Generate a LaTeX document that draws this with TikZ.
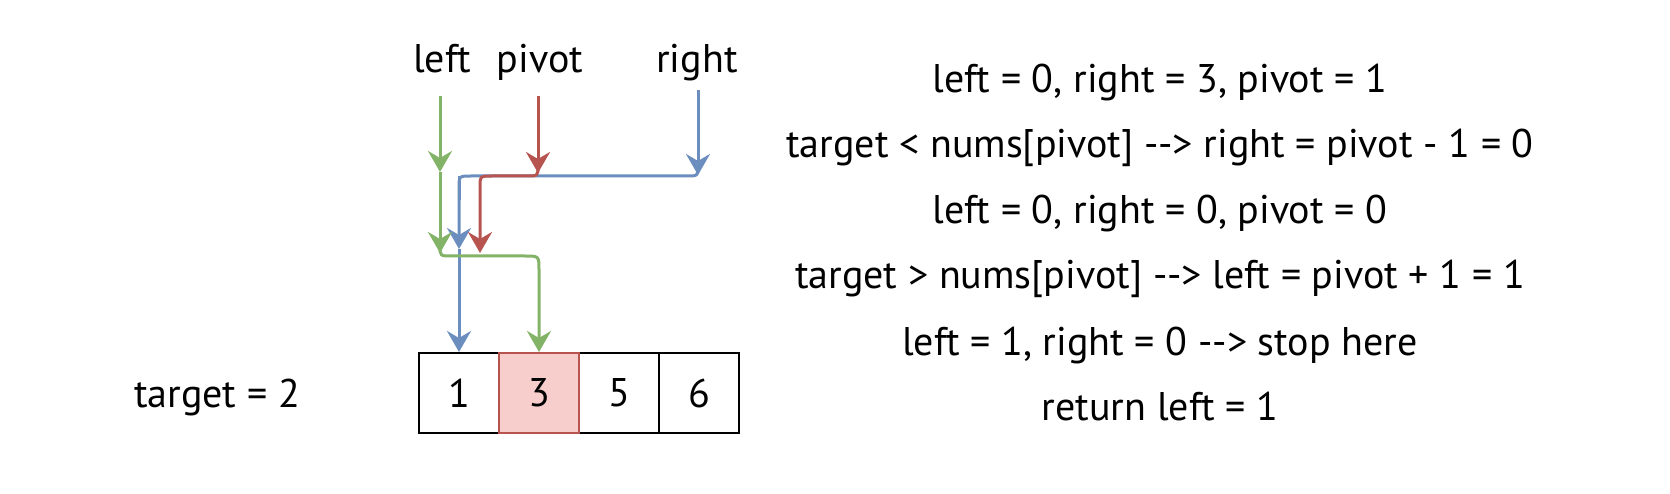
\documentclass[tikz,border=0pt]{standalone}
\usepackage{fontspec}
\setmainfont{PT Sans}[Ligatures=TeXOff]
\usetikzlibrary{arrows.meta}
\definecolor{dgreen}{HTML}{82B366}
\definecolor{dred}{HTML}{B85450}
\definecolor{dblue}{HTML}{6C8EBF}
\definecolor{hlfill}{HTML}{F8CECC}
\begin{document}
\begin{tikzpicture}[x=1pt,y=-1pt,
  txt/.style={font=\fontsize{40}{40}\selectfont, inner sep=0pt, anchor=base},
  cell/.style={draw=black, line width=2pt, minimum width=80pt, minimum height=80pt, inner sep=0pt, font=\fontsize{40}{40}\selectfont},
  hl/.style={cell, draw=dred, fill=hlfill},
  wire/.style={line width=3pt},
  arr/.style={wire, -{Stealth[length=21pt,width=24pt,inset=7pt]}},
]
\useasboundingbox (0,0) rectangle (1670,494);

% labels
\node[txt] (lleft) at (442,73) {left};
\node[txt] (lpivot) at (540,73) {pivot};
\node[txt] (lright) at (697,73) {right};
\node[txt] (target) at (217,407) {target = 2};

% array
\node[cell] (c1) at (459,393) {1};
\node[cell] (c3) at (619,393) {5};
\node[cell] (c4) at (699,393) {6};
\node[hl] (c2) at (539,393) {3};

% explanation
\node[txt] (t1) at (1160,93) {left = 0, right = 3, pivot = 1};
\node[txt] (t2) at (1160,158) {target < nums[pivot] --> right = pivot - 1 = 0};
\node[txt] (t3) at (1160,224) {left = 0, right = 0, pivot = 0};
\node[txt] (t4) at (1160,289) {target > nums[pivot] --> left = pivot + 1 = 1};
\node[txt] (t5) at (1160,355) {left = 1, right = 0 --> stop here};
\node[txt] (t6) at (1160,420) {return left = 1};

% arrow points
\coordinate (g0) at (440,96);
\coordinate (g1) at (440,172);
\coordinate (g2) at (440,253);
\coordinate (r0) at (538,96);
\coordinate (r1) at (538,173);
\coordinate (r2) at (480,253);
\coordinate (b0) at (698,90);
\coordinate (b1) at (698,175);
\coordinate (b2) at (459,249);

% blue
\draw[arr,dblue] (b0) -- (b1);
\draw[wire,dblue] (459,176) -- (459,200);
\draw[arr,dblue] (698,166) .. controls (698,176) .. (686,176) -- (471,176) .. controls (459,176) .. (459,188) -- (b2);
\draw[arr,dblue] (b2) -- (c1.north);

% red
\draw[arr,dred] (r0) -- (r1);
\draw[arr,dred] (538,166) .. controls (538,176) .. (526,176) -- (492,176) .. controls (480,176) .. (480,188) -- (r2);

% green
\draw[arr,dgreen] (g0) -- (g1);
\draw[arr,dgreen] (g1) -- (g2);
\draw[arr,dgreen] (440,246) .. controls (440,256) .. (452,256) -- (525,256) .. controls (539,256) .. (539,270) -- (c2.north);
\end{tikzpicture}
\end{document}
